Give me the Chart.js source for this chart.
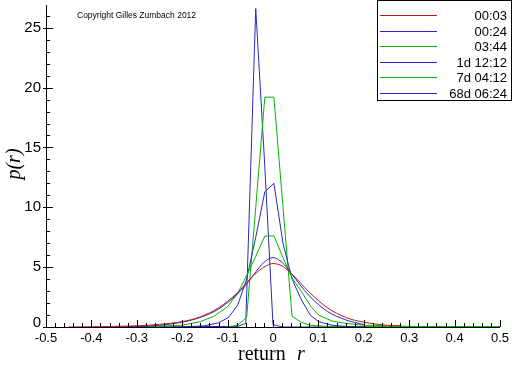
<!DOCTYPE html>
<html>
<head>
<meta charset="utf-8">
<script src="https://cdn.jsdelivr.net/npm/chart.js@4"></script>
<style>
  html, body { margin: 0; padding: 0; background: #fff; }
  #wrap { width: 512px; height: 366px; }
</style>
</head>
<body>
<div id="wrap"><canvas id="chart" width="512" height="366"></canvas></div>
<script>
// Series labels and colours (as in the legend box)
const seriesLabels = ["00:03", "00:24", "03:44", "1d 12:12", "7d 04:12", "68d 06:24"];
const seriesColors = ["#c01818", "#2828c0", "#00b400", "#2828c0", "#00b400", "#2828c0"];

// Return r and density p(r)
const r0003 = [-0.45, -0.4, -0.35, -0.3, -0.25, -0.2, -0.16, -0.12, -0.08, -0.06, -0.04, -0.02, 0, 0.02, 0.04, 0.06, 0.08, 0.12, 0.16, 0.2, 0.25, 0.28];
const p0003 = [0, 0.02, 0.05, 0.1, 0.22, 0.45, 0.85, 1.6, 2.8, 3.6, 4.4, 5.0, 5.3, 5.1, 4.5, 3.7, 2.9, 1.6, 0.8, 0.4, 0.15, 0.1];

const r0024 = [-0.35, -0.3, -0.25, -0.2, -0.16, -0.12, -0.08, -0.06, -0.04, -0.02, 0, 0.02, 0.04, 0.06, 0.08, 0.12, 0.16, 0.2];
const p0024 = [0, 0.05, 0.15, 0.4, 0.8, 1.5, 2.7, 3.5, 4.5, 5.4, 5.8, 5.4, 4.5, 3.5, 2.6, 1.3, 0.6, 0.2];

const r0344 = [-0.3, -0.2, -0.16, -0.13, -0.1, -0.078, -0.058, -0.038, -0.018, 0.002, 0.022, 0.042, 0.062, 0.082, 0.1, 0.13, 0.16, 0.2, 0.3, 0.5];
const p0344 = [0, 0.15, 0.45, 0.9, 1.7, 2.8, 4.3, 5.9, 7.6, 7.6, 5.8, 4.1, 3.0, 1.8, 1.0, 0.5, 0.3, 0.15, 0.05, 0.03];

const r1d = [-0.2, -0.15, -0.12, -0.098, -0.078, -0.058, -0.038, -0.018, 0.002, 0.022, 0.042, 0.062, 0.082, 0.1, 0.13, 0.16, 0.2];
const p1d = [0, 0.1, 0.35, 0.8, 1.8, 4.0, 7.5, 11.3, 12.0, 7.0, 4.0, 2.3, 1.0, 0.45, 0.15, 0.05, 0];

const r7d = [-0.1, -0.078, -0.058, -0.038, -0.018, 0.002, 0.022, 0.042, 0.062, 0.082, 0.12, 0.5];
const p7d = [0, 0.15, 0.8, 10.0, 19.2, 19.2, 10.0, 0.9, 0.4, 0.15, 0.05, 0];

const r68d = [-0.35, -0.078, -0.06, -0.038, -0.018, 0.0, 0.022, 0.2];
const p68d = [0, 0.05, 0.3, 26.6, 13.4, 0.2, 0, 0];

const seriesR = [r0003, r0024, r0344, r1d, r7d, r68d];
const seriesP = [p0003, p0024, p0344, p1d, p7d, p68d];
const smoothSeries = [true, true, false, false, false, false];

// Axis ticks
const xTickValues = [-0.5, -0.4, -0.3, -0.2, -0.1, 0, 0.1, 0.2, 0.3, 0.4, 0.5];
const xTickLabels = ["-0.5", "-0.4", "-0.3", "-0.2", "-0.1", "0", "0.1", "0.2", "0.3", "0.4", "0.5"];
const yTickValues = [0, 5, 10, 15, 20, 25];
const yTickLabels = ["0", "5", "10", "15", "20", "25"];

// Build datasets from the arrays above
const datasets = seriesLabels.map((label, i) => ({
  label: label,
  data: seriesR[i].map((r, j) => ({ x: r, y: seriesP[i][j] })),
  borderColor: seriesColors[i],
  borderWidth: 1,
  pointRadius: 0,
  fill: false,
  cubicInterpolationMode: smoothSeries[i] ? "monotone" : "default",
  tension: 0,
}));

// Draws the axes, tick marks, labels, legend box and copyright line
const decorations = {
  id: "decorations",
  afterDraw(chart) {
    const ctx = chart.ctx;
    const xs = chart.scales.x;
    const ys = chart.scales.y;
    const area = chart.chartArea;
    ctx.save();
    ctx.strokeStyle = "#000";
    ctx.fillStyle = "#000";
    ctx.lineWidth = 1;

    // axis lines
    ctx.beginPath();
    ctx.moveTo(Math.round(area.left) + 0.5, area.top);
    ctx.lineTo(Math.round(area.left) + 0.5, Math.round(area.bottom) + 0.5);
    ctx.lineTo(area.right, Math.round(area.bottom) + 0.5);
    ctx.stroke();

    // x minor ticks every 0.02, major every 0.1
    ctx.beginPath();
    for (let k = -25; k <= 25; k++) {
      const px = Math.round(xs.getPixelForValue(k * 0.02)) + 0.5;
      const len = k % 5 === 0 ? 7 : 4;
      ctx.moveTo(px, Math.round(area.bottom));
      ctx.lineTo(px, Math.round(area.bottom) - len);
    }
    // y minor ticks every 1, major every 5
    for (let v = 0; v <= 26; v++) {
      const py = Math.round(ys.getPixelForValue(v)) + 0.5;
      const major = v % 5 === 0;
      ctx.moveTo(Math.round(area.left) + (major ? -3 : 0), py);
      ctx.lineTo(Math.round(area.left) + (major ? 7 : 4), py);
    }
    ctx.stroke();

    // tick labels
    ctx.font = "13px 'Liberation Sans', Arial, sans-serif";
    ctx.textAlign = "center";
    ctx.textBaseline = "middle";
    xTickValues.forEach((v, i) => {
      ctx.fillText(xTickLabels[i], xs.getPixelForValue(v), area.bottom + 11);
    });
    ctx.font = "15px 'Liberation Sans', Arial, sans-serif";
    ctx.textAlign = "right";
    yTickValues.forEach((v, i) => {
      const off = v === 0 ? -4 : 0;
      ctx.fillText(yTickLabels[i], area.left - 5, ys.getPixelForValue(v) + off);
    });

    // axis titles
    ctx.textBaseline = "alphabetic";
    ctx.textAlign = "left";
    ctx.font = "20px 'Liberation Serif', 'DejaVu Serif', serif";
    ctx.fillText("return", 238, 360);
    ctx.font = "italic 20px 'Liberation Serif', 'DejaVu Serif', serif";
    ctx.fillText("r", 297, 360);
    ctx.save();
    ctx.translate(20, 164);
    ctx.rotate(-Math.PI / 2);
    ctx.textAlign = "center";
    ctx.fillText("p(r)", 0, 0);
    ctx.restore();

    // copyright
    ctx.font = "8.5px 'Liberation Sans', Arial, sans-serif";
    ctx.textBaseline = "middle";
    ctx.fillText("Copyright Gilles Zumbach 2012", 77, 16);

    // legend box
    ctx.fillStyle = "#fff";
    ctx.fillRect(377, 0, 135, 101);
    ctx.strokeStyle = "#000";
    ctx.strokeRect(377.5, 0.5, 134, 100);
    ctx.font = "13px 'Liberation Sans', Arial, sans-serif";
    ctx.textAlign = "right";
    seriesLabels.forEach((label, i) => {
      const y = Math.round(15 + i * 15.5);
      ctx.fillStyle = seriesColors[i];
      ctx.fillRect(380, y, 57, 1);
      ctx.fillStyle = "#000";
      ctx.fillText(label, 507, y + 1);
    });
    ctx.restore();
  },
};

new Chart(document.getElementById("chart").getContext("2d"), {
  type: "line",
  data: { datasets: datasets },
  options: {
    responsive: false,
    animation: false,
    layout: { padding: { left: 46, right: 12, top: 5, bottom: 39 } },
    plugins: { legend: { display: false }, tooltip: { enabled: false } },
    scales: {
      x: { type: "linear", min: -0.5, max: 0.5, display: false },
      y: { type: "linear", min: 0, max: 26.9, display: false },
    },
  },
  plugins: [decorations],
});
</script>
</body>
</html>
